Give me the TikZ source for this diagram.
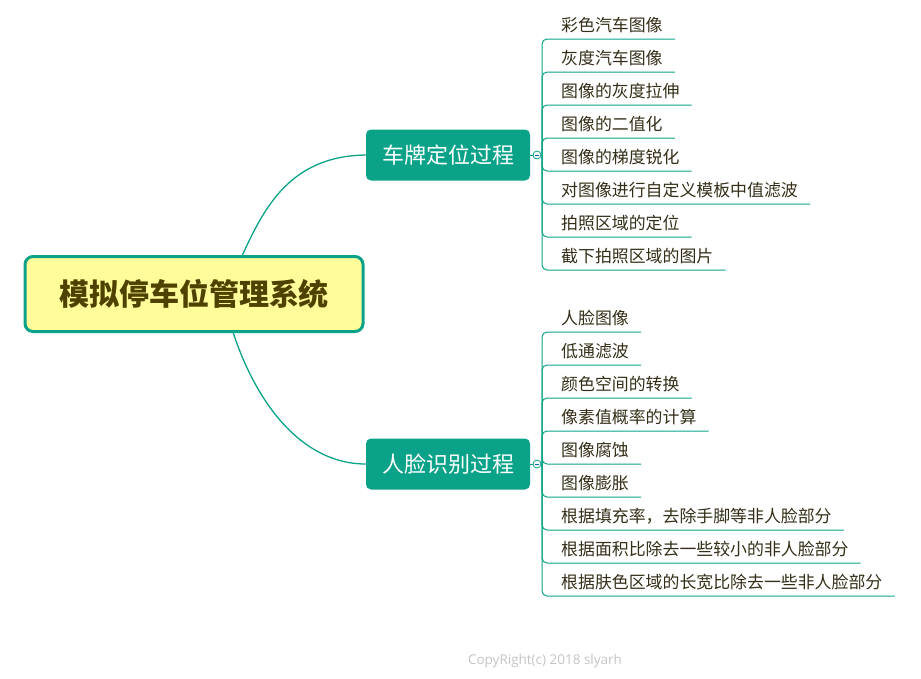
\documentclass[tikz,border=0pt]{standalone}
\usepackage{fontspec}
\setmainfont{Noto Sans CJK SC}
\newfontfamily\latinfont{Open Sans}
\definecolor{teal1}{HTML}{0AA389}
\definecolor{rootfill}{HTML}{FFFD9A}
\definecolor{roottext}{HTML}{4F4200}
\definecolor{leaftext}{HTML}{342E18}
\definecolor{copygray}{HTML}{C4C4C4}
\tikzset{
  conn/.style={draw=teal1, line width=1.3pt},
  rootbox/.style={draw=teal1, line width=3pt, fill=rootfill, rounded corners=8pt,
    minimum width=338pt, minimum height=75pt, text=roottext,
    font=\fontsize{30}{36}\selectfont\bfseries},
  branchbox/.style={fill=teal1, rounded corners=5pt, minimum width=164pt,
    minimum height=51pt, text=white, font=\fontsize{22}{26}\selectfont},
  leaf/.style={anchor=base west, inner sep=0pt, text=leaftext,
    font=\fontsize{16.9}{20}\selectfont},
  collapse/.style={circle, draw=teal1, fill=white, line width=0.8pt,
    minimum size=8pt, inner sep=0pt}
}
\newcommand\leafitem[4]{%
  \node[leaf] (#1) at (561,#2-8) {#3};
  \coordinate (#1u) at (0,#2);
  \draw[conn, line width=1pt, rounded corners=5pt] (542,#4) |- ([xshift=12pt]#1.east |- #1u);
}
\begin{document}
\begin{tikzpicture}[x=1pt,y=-1pt]
\useasboundingbox (0,0) rectangle (921,678);
% root
\node[rootbox] (root) at (194,294) {模拟停车位管理系统};
% branches
\node[branchbox] (b1) at (448,155) {车牌定位过程};
\node[branchbox] (b2) at (448,464) {人脸识别过程};
% root connectors
\coordinate (r1) at (242,256);
\coordinate (r2) at (233,332);
\draw[conn] (r1) .. controls (264,208) and (290,156) .. (b1.west);
\draw[conn] (r2) .. controls (255,400) and (300,464) .. (b2.west);
% leaves of branch 1
\leafitem{a1}{39}{彩色汽车图像}{155}
\leafitem{a2}{72}{灰度汽车图像}{155}
\leafitem{a3}{105}{图像的灰度拉伸}{155}
\leafitem{a4}{138}{图像的二值化}{155}
\leafitem{a5}{171}{图像的梯度锐化}{155}
\leafitem{a6}{204}{对图像进行自定义模板中值滤波}{155}
\leafitem{a7}{237}{拍照区域的定位}{155}
\leafitem{a8}{270}{截下拍照区域的图片}{155}
% leaves of branch 2
\leafitem{c1}{332}{人脸图像}{464}
\leafitem{c2}{365}{低通滤波}{464}
\leafitem{c3}{398}{颜色空间的转换}{464}
\leafitem{c4}{431}{像素值概率的计算}{464}
\leafitem{c5}{464}{图像腐蚀}{464}
\leafitem{c6}{497}{图像膨胀}{464}
\leafitem{c7}{530}{根据填充率，去除手脚等非人脸部分}{464}
\leafitem{c8}{563}{根据面积比除去一些较小的非人脸部分}{464}
\leafitem{c9}{596}{根据肤色区域的长宽比除去一些非人脸部分}{464}
% collapse markers
\draw[conn, line width=1pt] (b1.east) -- (542,155);
\draw[conn, line width=1pt] (b2.east) -- (542,464);
\node[collapse] (k1) at (537,155) {};
\node[collapse] (k2) at (537,464) {};
\draw[draw=teal1!60!blue, line width=0.7pt] ([xshift=-2.2pt]k1.center) -- ([xshift=2.2pt]k1.center);
\draw[draw=teal1!60!blue, line width=0.7pt] ([xshift=-2.2pt]k2.center) -- ([xshift=2.2pt]k2.center);
% copyright
\node[text=copygray, font=\latinfont\fontsize{13.5}{16}\selectfont] (copy) at (545,661) {CopyRight(c) 2018 slyarh};
\end{tikzpicture}
\end{document}
